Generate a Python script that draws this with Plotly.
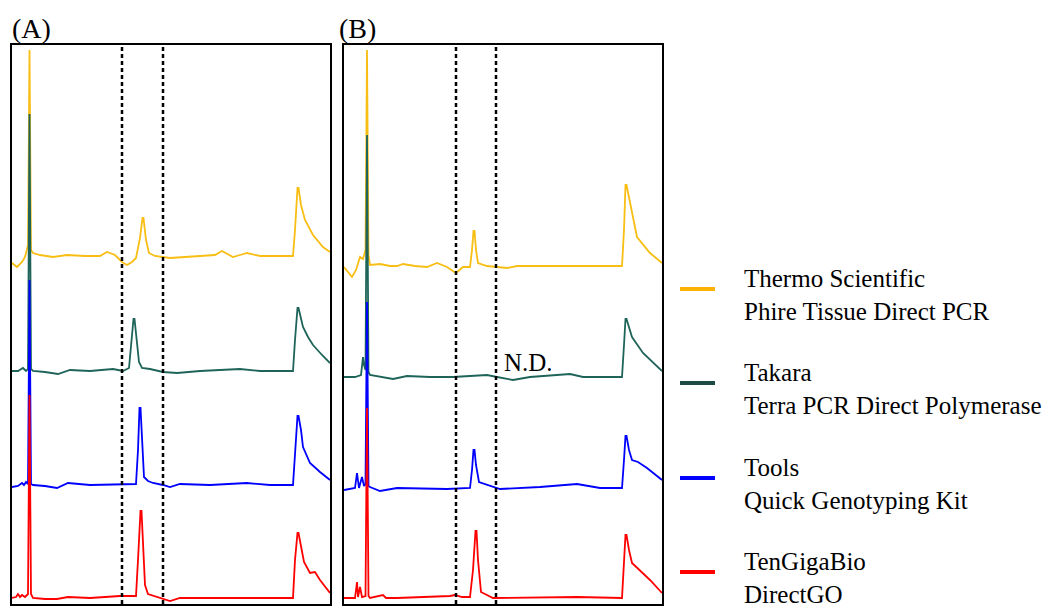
import plotly.graph_objects as go

# ---------------- data (migration index vs. signal, stacked lanes) ----------------
kits = ["Thermo Scientific<br>Phire Tissue Direct PCR",
        "Takara<br>Terra PCR Direct Polymerase",
        "Tools<br>Quick Genotyping Kit",
        "TenGigaBio<br>DirectGO"]

# Panel A
a_yellow_x = [0, 5, 10, 13, 16, 17.5, 19, 21, 28, 41, 55, 73, 88, 95, 103, 110, 115, 120, 124, 128, 130.5, 131.5, 134, 137, 143, 151, 158, 173, 188, 203, 210, 216, 221, 228, 235, 248, 263, 281, 283, 285.5, 286.5, 289, 293, 301, 311, 318]
a_yellow_y = [341, 337, 342, 347, 359, 554, 354, 351, 349, 347, 349, 348, 348, 352, 349, 342, 339, 342, 346, 366, 386, 386, 364, 351, 348, 347, 346, 347, 348, 349, 353, 350, 347, 349, 351, 348, 348, 348, 374, 416, 416, 399, 384, 369, 357, 352]

a_green_x = [0, 6, 11, 14, 16, 17.5, 19, 21, 33, 46, 58, 78, 101, 111, 117, 120, 121.5, 122.5, 124, 127, 130, 138, 151, 165, 188, 228, 248, 281, 283, 285.5, 286.5, 289, 291, 296, 301, 310, 318]
a_green_y = [233, 233, 236, 233, 235, 490, 235, 233, 232, 230, 234, 233, 235, 233, 236, 264, 285, 285, 269, 242, 236, 235, 232, 231, 233, 235, 233, 233, 264, 296, 296, 286, 277, 267, 259, 249, 241]

a_blue_x = [0, 6, 10, 12, 14, 16, 17.5, 19, 21, 33, 45, 56, 78, 108, 124, 126, 127.5, 128.5, 130, 132, 136, 141, 151, 158, 168, 198, 235, 258, 281, 283, 285.5, 286.5, 289, 291, 298, 308, 318]
a_blue_y = [117, 118, 121, 119, 122, 120, 324, 120, 119, 118, 116, 121, 119, 120, 120, 154, 196, 196, 164, 127, 123, 121, 119, 117, 120, 119, 121, 119, 119, 154, 188, 188, 174, 157, 141, 132, 124]

a_red_x = [0, 4, 6, 8, 10, 13, 16, 17.5, 19, 21, 33, 45, 56, 78, 108, 124, 126, 128.5, 129.5, 131, 133, 136, 145, 158, 168, 238, 281, 283, 285.5, 286.5, 289, 292, 298, 303, 308, 318]
a_red_y = [6, 7, 10, 7, 9, 7, 10, 209, 10, 6, 5, 5, 7, 6, 8, 8, 44, 93, 93, 64, 19, 10, 7, 3, 6, 6, 6, 44, 71, 71, 56, 42, 31, 32, 24, 11]

# Panel B
b_yellow_x = [0, 4, 8, 12, 16, 19, 21.5, 23, 24.5, 26, 36, 46, 53, 59, 71, 83, 93, 103, 112, 119, 126, 128, 129.5, 130.5, 132, 134, 143, 163, 173, 216, 256, 278, 280, 281.5, 282.5, 285, 288, 293, 306, 318]
b_yellow_y = [337, 332, 327, 334, 347, 345, 354, 554, 349, 339, 340, 338, 338, 340, 338, 337, 341, 337, 331, 337, 337, 354, 373, 373, 354, 341, 338, 336, 338, 338, 338, 338, 374, 419, 419, 406, 394, 367, 351, 341]

b_green_x = [0, 11, 17, 18, 19, 20, 21.5, 23, 24.5, 26, 36, 49, 63, 86, 109, 126, 143, 153, 169, 186, 226, 239, 278, 280, 281.5, 282.5, 285, 288, 299, 318]
b_green_y = [227, 227, 229, 242, 247, 239, 234, 469, 232, 229, 227, 225, 228, 227, 227, 228, 229, 227, 224, 227, 230, 227, 227, 259, 285, 285, 276, 267, 251, 233]

b_blue_x = [0, 11, 13, 15, 18, 20, 21.5, 23, 24.5, 26, 36, 53, 103, 126, 128, 129.5, 130.5, 132, 135, 146, 156, 196, 233, 256, 278, 280, 281.5, 282.5, 285, 288, 294, 303, 318]
b_blue_y = [114, 116, 131, 116, 127, 118, 120, 302, 118, 117, 113, 116, 115, 116, 134, 154, 154, 139, 122, 118, 115, 117, 120, 116, 116, 144, 168, 168, 154, 144, 142, 136, 124]

b_red_x = [0, 11, 13, 14, 16, 18, 21.5, 23, 24.5, 26, 39, 42, 53, 106, 111, 118, 126, 129, 131.5, 132.5, 134, 137, 149, 233, 278, 280, 281.5, 282.5, 285, 288, 298, 306, 318]
b_red_y = [6, 6, 22, 7, 17, 7, 8, 196, 8, 6, 9, 6, 6, 8, 9, 7, 7, 34, 73, 73, 44, 12, 6, 7, 6, 44, 69, 69, 54, 41, 32, 24, 11]

# fragment-size window boundaries (dashed lines)
a_cuts = [110, 151]
b_cuts = [112, 152]

trace_colors = ["#F8BE14", "#1E6459", "#0000FF", "#FF0000"]
legend_colors = ["#FFB300", "#1E4A44", "#0000FF", "#FF0000"]

panel_a = [(a_yellow_x, a_yellow_y), (a_green_x, a_green_y), (a_blue_x, a_blue_y), (a_red_x, a_red_y)]
panel_b = [(b_yellow_x, b_yellow_y), (b_green_x, b_green_y), (b_blue_x, b_blue_y), (b_red_x, b_red_y)]

# ---------------- figure ----------------
W, H = 1051, 606
fig = go.Figure()

for (xs, ys), c in zip(panel_a, trace_colors):
    fig.add_trace(go.Scatter(x=xs, y=ys, mode="lines", line=dict(color=c, width=1.8),
                             xaxis="x", yaxis="y", showlegend=False, hoverinfo="skip"))
for (xs, ys), c in zip(panel_b, trace_colors):
    fig.add_trace(go.Scatter(x=xs, y=ys, mode="lines", line=dict(color=c, width=1.8),
                             xaxis="x2", yaxis="y2", showlegend=False, hoverinfo="skip"))

ax_common = dict(showgrid=False, zeroline=False, showticklabels=False, ticks="",
                 showline=True, mirror=True, linecolor="black", linewidth=2)
ydom = [1 - 604 / H, 1 - 45 / H]
fig.update_layout(
    width=W, height=H, margin=dict(l=0, r=0, t=0, b=0),
    paper_bgcolor="white", plot_bgcolor="white",
    font=dict(family="Liberation Serif, Times New Roman, serif", color="black"),
    xaxis=dict(domain=[12 / W, 330 / W], range=[0, 318], **ax_common),
    yaxis=dict(domain=ydom, range=[0, 559], **ax_common),
    xaxis2=dict(domain=[344 / W, 662 / W], range=[0, 318], anchor="y2", **ax_common),
    yaxis2=dict(domain=ydom, range=[0, 559], anchor="x2", **ax_common),
)

shapes = []
for xv in a_cuts:
    shapes.append(dict(type="line", xref="x", yref="y domain", x0=xv, x1=xv, y0=0, y1=1,
                       line=dict(color="black", width=2.5, dash="4px,3px"), layer="above"))
for xv in b_cuts:
    shapes.append(dict(type="line", xref="x2", yref="y2 domain", x0=xv, x1=xv, y0=0, y1=1,
                       line=dict(color="black", width=2.5, dash="4px,3px"), layer="above"))

# legend swatches + labels
swatch_y = [289, 383, 478, 572]
annotations = []
for name, c, sy in zip(kits, legend_colors, swatch_y):
    shapes.append(dict(type="line", xref="paper", yref="paper", x0=680 / W, x1=715 / W,
                       y0=1 - sy / H, y1=1 - sy / H, line=dict(color=c, width=4)))
    annotations.append(dict(text=name, xref="paper", yref="paper", x=742 / W, y=1 - (sy + 6) / H,
                            xanchor="left", yanchor="middle", align="left", showarrow=False,
                            font=dict(size=25)))

annotations.append(dict(text="(A)", xref="paper", yref="paper", x=10 / W, y=1 - 28 / H,
                        xanchor="left", yanchor="middle", showarrow=False, font=dict(size=28)))
annotations.append(dict(text="(B)", xref="paper", yref="paper", x=337 / W, y=1 - 28 / H,
                        xanchor="left", yanchor="middle", showarrow=False, font=dict(size=28)))
annotations.append(dict(text="N.D.", xref="paper", yref="paper", x=502 / W, y=1 - 362 / H,
                        xanchor="left", yanchor="middle", showarrow=False, font=dict(size=25)))

fig.update_layout(shapes=shapes, annotations=annotations)

fig.write_html("out.html", config={"displayModeBar": False},
               post_script="document.body.style.margin='0';")
